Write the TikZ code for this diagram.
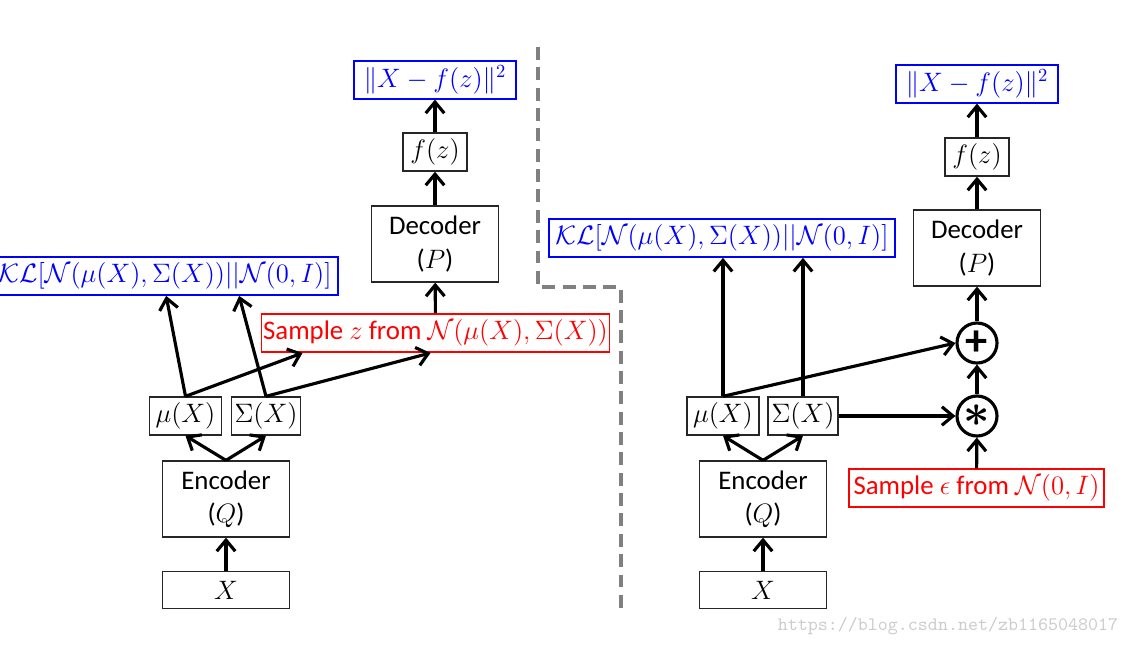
\documentclass[tikz,border=0pt]{standalone}
\usepackage{fontspec}
\setsansfont{Carlito}
\usepackage{amsmath}
\usepackage{tikz}
\usetikzlibrary{arrows.meta, positioning, calc}
\definecolor{lossblue}{HTML}{0000FF}
\definecolor{samplered}{HTML}{FF0000}
\definecolor{splitgray}{HTML}{808080}
\newcommand{\sanstxt}[1]{{\sffamily\fontsize{14.5}{18}\selectfont #1}}

\begin{document}
\begin{tikzpicture}[x=0.019cm, y=-0.019cm,
    blackbox/.style={draw=black!85, line width=0.8pt, inner sep=1pt, font=\Large},
    loss/.style={draw=lossblue, text=lossblue, line width=1pt, inner sep=1pt, font=\Large},
    sample/.style={draw=samplered, text=samplered, line width=0.8pt, inner sep=1pt, font=\Large},
    coder/.style={blackbox, minimum width=2.41cm, minimum height=1.44cm, align=center},
    inbox/.style={blackbox, minimum width=2.41cm, minimum height=0.70cm},
    statbox/.style={blackbox, minimum height=0.72cm},
    fbox/.style={blackbox, minimum width=1.21cm, minimum height=0.72cm},
    lossbox/.style={loss, minimum width=3.08cm, minimum height=0.71cm},
    klbox/.style={loss, minimum width=6.57cm, minimum height=0.72cm},
    op/.style={circle, draw, line width=1.7pt, minimum size=0.76cm, inner sep=0pt},
    flow/.style={line width=1.7pt, -{Straight Barb[length=6pt,width=10pt]}}
]
    \useasboundingbox (0,0) rectangle (1129,646);

    % Dashed split between the two networks
    \draw[splitgray, line width=2pt, dash pattern=on 7pt off 4pt]
        (538,47) -- (538,287) -- (621,287) -- (621,614);

    % Left: sampling inside the network
    \node[inbox] (inL) at (226,590) {$X$};
    \node[coder] (encL) at (226,499) {\sanstxt{Encoder}\\\sanstxt{(}$Q$\sanstxt{)}};
    \node[statbox, minimum width=1.36cm] (muL) at (185.5,416) {$\mu(X)$};
    \node[statbox, minimum width=1.32cm] (sigL) at (266,416) {$\Sigma(X)$};
    \node[klbox] (klL) at (165,276) {$\mathcal{KL}[\mathcal{N}(\mu(X),\Sigma(X))||\mathcal{N}(0,I)]$};
    \node[sample, minimum width=6.57cm, minimum height=0.73cm] (smpL) at (435.5,333)
        {\sanstxt{Sample }$z$\sanstxt{ from }$\mathcal{N}(\mu(X),\Sigma(X))$};
    \node[coder] (decL) at (435,244) {\sanstxt{Decoder}\\\sanstxt{(}$P$\sanstxt{)}};
    \node[fbox] (fL) at (435,152) {$f(z)$};
    \node[lossbox] (lossL) at (435,80) {$\|X-f(z)\|^2$};

    \draw[flow] (inL) -- (encL);
    \draw[flow] (encL.north) -- (muL.south);
    \draw[flow] (encL.north) -- (sigL.south);
    \draw[flow] (muL.north) -- ($(klL.south west)+(175,0)$);
    \draw[flow] (sigL.north) -- ($(klL.south west)+(248,0)$);
    \draw[flow] (muL.north) -- ($(smpL.south west)+(42,0)$);
    \draw[flow] (sigL.north) -- ($(smpL.south west)+(170,0)$);
    \draw[flow] (smpL) -- (decL);
    \draw[flow] (decL) -- (fL);
    \draw[flow] (fL) -- (lossL);

    % Right: reparameterization trick
    \node[inbox] (inR) at (763,590) {$X$};
    \node[coder] (encR) at (763,499) {\sanstxt{Encoder}\\\sanstxt{(}$Q$\sanstxt{)}};
    \node[statbox, minimum width=1.37cm] (muR) at (723,416) {$\mu(X)$};
    \node[statbox, minimum width=1.33cm] (sigR) at (803,416) {$\Sigma(X)$};
    \node[klbox] (klR) at (722,238) {$\mathcal{KL}[\mathcal{N}(\mu(X),\Sigma(X))||\mathcal{N}(0,I)]$};
    \node[op, font=\Huge\boldmath] (mulR) at (977,416) {$\ast$};
    \node[op, font=\sffamily\bfseries\fontsize{24}{24}\selectfont] (plusR) at (977,343) {+};
    \node[sample, minimum width=4.85cm, minimum height=0.72cm] (smpR) at (976.5,488)
        {\sanstxt{Sample }$\epsilon$\sanstxt{ from }$\mathcal{N}(0,I)$};
    \node[coder] (decR) at (977,248) {\sanstxt{Decoder}\\\sanstxt{(}$P$\sanstxt{)}};
    \node[fbox] (fR) at (977,157) {$f(z)$};
    \node[lossbox] (lossR) at (977,84) {$\|X-f(z)\|^2$};

    \draw[flow] (inR) -- (encR);
    \draw[flow] (encR.north) -- (muR.south);
    \draw[flow] (encR.north) -- (sigR.south);
    \draw[flow] (muR.north) -- (muR.north |- klR.south);
    \draw[flow] (sigR.north) -- (sigR.north |- klR.south);
    \draw[flow] (muR.north) -- (plusR.west);
    \draw[flow] (sigR.east) -- (mulR.west);
    \draw[flow] (smpR) -- (mulR);
    \draw[flow] (mulR) -- (plusR);
    \draw[flow] (plusR) -- (decR);
    \draw[flow] (decR) -- (fR);
    \draw[flow] (fR) -- (lossR);

    % Watermark
    \node[font=\ttfamily\fontsize{10.3}{12}\selectfont, text=black!20] (mark) at (948,626)
        {https://blog.csdn.net/zb1165048017};
\end{tikzpicture}
\end{document}
